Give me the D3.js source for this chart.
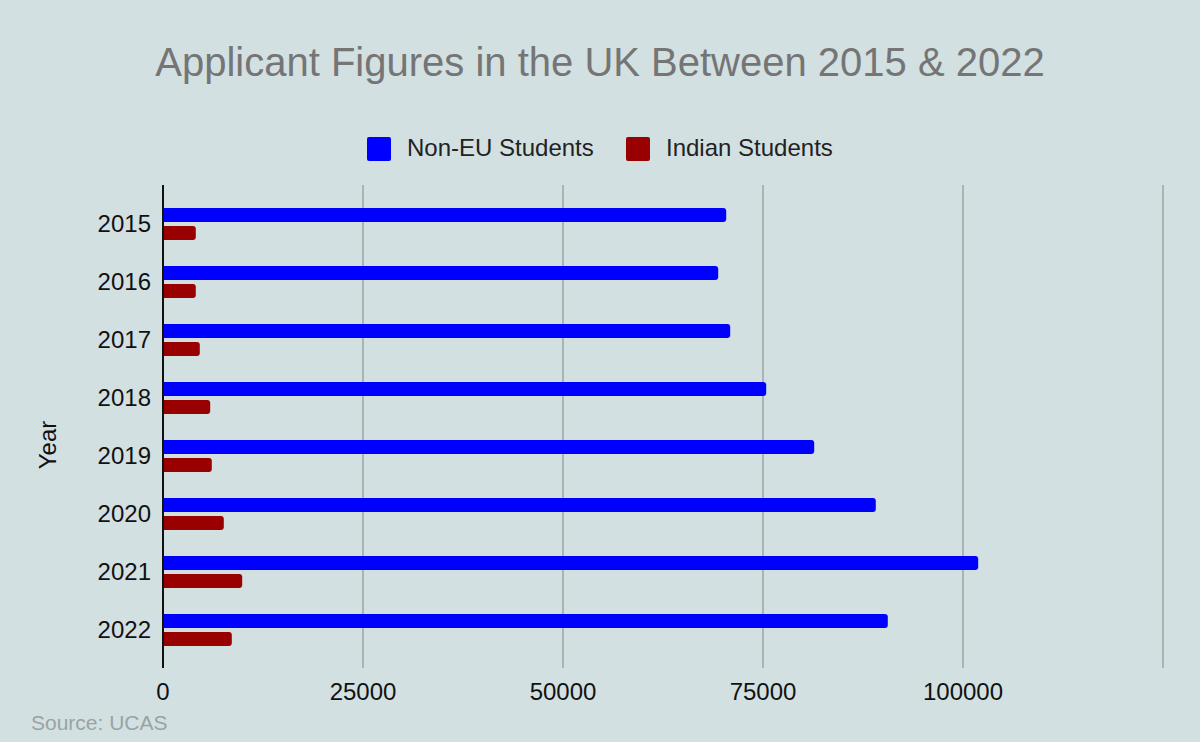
<!DOCTYPE html><html><head><meta charset="utf-8"><script src="https://cdn.jsdelivr.net/npm/d3@7"></script>
<style>body{margin:0;background:#d2e0e2}svg{font-family:"Liberation Sans",Arial,sans-serif}</style></head><body><svg id="c" width="1200" height="742"></svg><script>
const years=["2015","2016","2017","2018","2019","2020","2021","2022"];
const nonEU=[70400,69400,70900,75400,81400,89100,101900,90600];
const indian=[4100,4100,4600,5900,6100,7600,9900,8600];
const ticks=[0,25000,50000,75000,100000];
const grid=[25000,50000,75000,100000,125000];
const svg=d3.select("#c");
svg.append("rect").attr("width",1200).attr("height",742).attr("fill","#d2e0e2");
const x=d3.scaleLinear().domain([0,125000]).range([163,1163]);
const y=d3.scaleBand().domain(years).range([185,649]);
svg.append("text").attr("x",600).attr("y",76).attr("text-anchor","middle").attr("font-size",40).attr("fill","#757575").text("Applicant Figures in the UK Between 2015 & 2022");
svg.selectAll(".g").data(grid).join("line").attr("x1",d=>x(d)).attr("x2",d=>x(d)).attr("y1",185).attr("y2",668).attr("stroke","#9aa7a2").attr("stroke-width",1.5);
svg.selectAll(".t").data(ticks).join("text").attr("x",d=>x(d)).attr("y",700).attr("text-anchor","middle").attr("font-size",24).attr("fill","#111").text(d=>d);
svg.selectAll(".y").data(years).join("text").attr("x",151).attr("y",d=>y(d)+47).attr("text-anchor","end").attr("font-size",24).attr("fill","#111").text(d=>d);
function bar(vals,off,col){svg.append("g").selectAll("path").data(vals).join("path").attr("fill",col).attr("d",(v,i)=>{const x0=x(0),x1=x(v),t=y(years[i])+off,h=14,r=3;return `M${x0},${t}H${x1-r}Q${x1},${t} ${x1},${t+r}V${t+h-r}Q${x1},${t+h} ${x1-r},${t+h}H${x0}Z`;});}
bar(nonEU,23,"#0000ff");bar(indian,41,"#990000");
svg.append("line").attr("x1",163).attr("x2",163).attr("y1",185).attr("y2",668).attr("stroke","#111").attr("stroke-width",2);
svg.append("text").attr("transform","translate(56,445) rotate(-90)").attr("text-anchor","middle").attr("font-size",24).attr("fill","#111").text("Year");
const lg=[["Non-EU Students","#0000ff",367],["Indian Students","#990000",626]];
lg.forEach(([t,c,lx])=>{svg.append("rect").attr("x",lx).attr("y",137).attr("width",24).attr("height",24).attr("rx",2).attr("fill",c);svg.append("text").attr("x",lx+40).attr("y",156).attr("font-size",24).attr("fill","#222").text(t);});
svg.append("text").attr("x",31).attr("y",730).attr("font-size",21).attr("fill","#9aa3a3").text("Source: UCAS");
</script></body></html>
